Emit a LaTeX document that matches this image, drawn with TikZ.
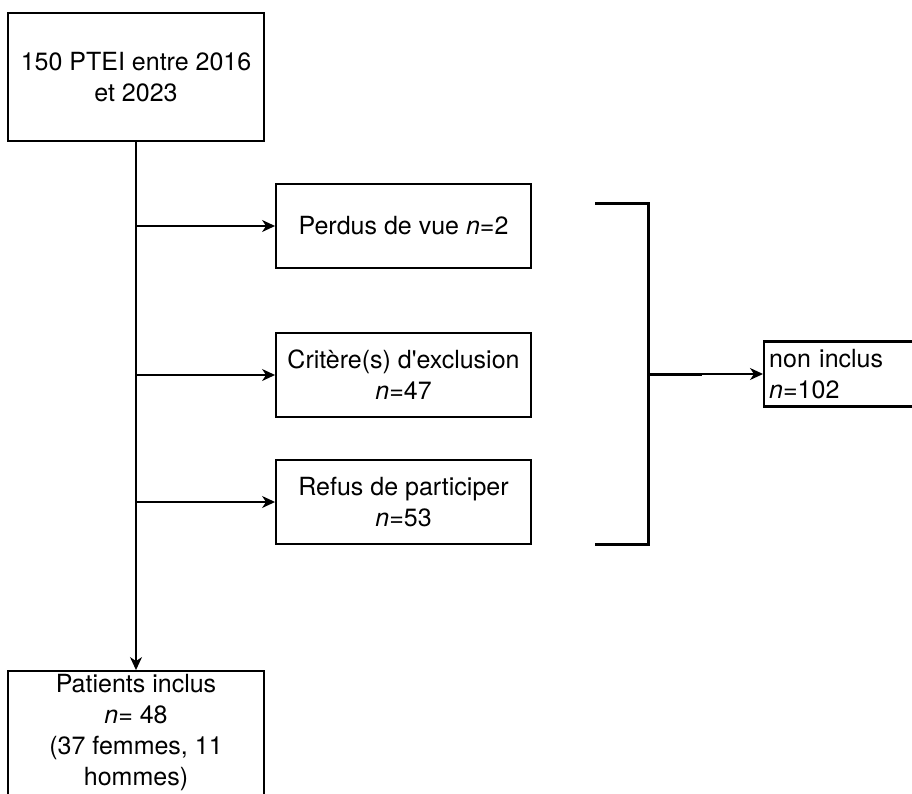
\documentclass[tikz,border=0pt]{standalone}
\usepackage{fontspec}
\setmainfont{TeX Gyre Heros}[Ligatures=TeXOff]
\usetikzlibrary{arrows.meta}

\begin{document}
\begin{tikzpicture}[
    x = 1pt, y = -1pt,
    boxstyle/.style     = {draw,
                           line width=1.9pt,
                           minimum width=255pt,
                           minimum height=84pt,
                           align=center,
                           inner sep=2pt,
                           font=\fontsize{25}{31}\selectfont},
    arr/.style          = {line width=1.5pt,
                           -{Stealth[length=13pt, width=12pt, inset=4pt]}},
    bracketstyle/.style = {line width=3pt}
]
\clip (0,0) rectangle (912,794);

\node (src) [boxstyle, minimum width=256pt, minimum height=128pt] at (136,77) {
150 PTEI entre 2016\\ et 2023
};
\node (lost) [boxstyle] at (403.5,226) {Perdus de vue \textit{n}=2};
\node (excl) [boxstyle] at (403.5,375) {Critère(s) d'exclusion\\ \textit{n}=47};
\node (refus) [boxstyle] at (403.5,502) {Refus de participer\\ \textit{n}=53};
\node (incl) [boxstyle, minimum width=256pt, minimum height=124pt] at (136,733) {
Patients inclus\\ \textit{n}= 48\\ (37 femmes, 11\\ hommes)
};
\node (noninc) [boxstyle, anchor=west, minimum width=153pt, minimum height=65pt,
                line width=2.4pt, text width=143pt, inner xsep=5pt, align=left] at (763,374) {
non inclus\\ \textit{n}=102
};

\draw[arr] (src.south) -- (incl.north);
\foreach \b in {lost, excl, refus}
    \draw[arr] (src.south |- \b.west) -- (\b.west);

% bracket
\coordinate (btop)  at (595,204);
\coordinate (bbot)  at (595,544);
\coordinate (bmid)  at (648,374);
\coordinate (bstub) at (702,374);
\draw[bracketstyle] (btop) -| (bmid) |- (bbot);
\draw[bracketstyle] (bmid) -- (bstub);
\draw[arr] (bstub) -- (noninc.west);

\end{tikzpicture}
\end{document}
